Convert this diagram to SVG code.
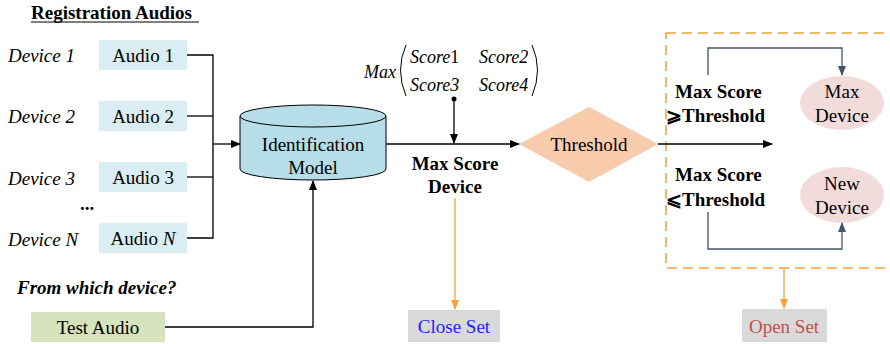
<svg xmlns="http://www.w3.org/2000/svg" width="890" height="344" viewBox="0 0 890 344" font-family="'Liberation Serif', 'Times New Roman', Times, 'DejaVu Serif', serif">
<defs>
<style>
text{font-family:'Liberation Serif','Times New Roman',Times,'DejaVu Serif',serif;font-size:19px;fill:#000}
.b{font-weight:bold}
.i{font-style:italic}
.c{text-anchor:middle}
.aud{fill:#daedf3}
.ln{fill:none;stroke:#000;stroke-width:1.3}
.sl{fill:none;stroke:#44546a;stroke-width:1.3}
.or{fill:none;stroke:#f5a038;stroke-width:1.3}
</style>
<marker id="ab" markerWidth="10" markerHeight="10" refX="9" refY="5" orient="auto" markerUnits="userSpaceOnUse"><path d="M0,1 L10,5 L0,9 Z" fill="#000"/></marker>
<marker id="as" markerWidth="10" markerHeight="10" refX="9" refY="5" orient="auto" markerUnits="userSpaceOnUse"><path d="M0,1 L10,5 L0,9 Z" fill="#44546a"/></marker>
<marker id="ao" markerWidth="10" markerHeight="10" refX="9" refY="5" orient="auto" markerUnits="userSpaceOnUse"><path d="M0,1 L10,5 L0,9 Z" fill="#f5a038"/></marker>
</defs>

<g id="title">
<text class="b" x="31" y="19">Registration Audios</text>
<line x1="31" y1="22" x2="199" y2="22" stroke="#000" stroke-width="1.2"/>
</g>

<g id="device-labels">
<text class="i" x="8" y="62">Device 1</text>
<text class="i" x="8" y="123">Device 2</text>
<text class="i" x="8" y="185">Device 3</text>
<text class="b" x="80" y="210">...</text>
<text class="i" x="8" y="246">Device N</text>
</g>

<g id="audio1"><rect class="aud" x="99" y="40" width="88" height="30"/><text class="c" x="143" y="62">Audio 1</text></g>
<g id="audio2"><rect class="aud" x="99" y="101" width="88" height="30"/><text class="c" x="143" y="123">Audio 2</text></g>
<g id="audio3"><rect class="aud" x="99" y="162" width="88" height="30"/><text class="c" x="143" y="184">Audio 3</text></g>
<g id="audioN"><rect class="aud" x="99" y="223" width="88" height="30"/><text class="c" x="143" y="245">Audio <tspan class="i">N</tspan></text></g>

<g id="question"><text class="b i" x="17" y="294">From which device?</text></g>

<g id="test-audio"><rect x="31" y="312" width="134" height="30" fill="#d6e3bc"/><text class="c" x="98" y="334">Test Audio</text></g>

<g id="model">
<path d="M240,116 L240,169 A73,11 0 0 0 386,169 L386,116" fill="#b7dde8" stroke="#000" stroke-width="1"/>
<ellipse cx="313" cy="116" rx="73" ry="11" fill="#b7dde8" stroke="#000" stroke-width="1"/>
<text class="c" x="313" y="151">Identification</text>
<text class="c" x="313" y="174">Model</text>
</g>

<g id="max-matrix">
<text class="i" x="364" y="78" style="font-size:18px">Max</text>
<path d="M406,45 Q395,70 406,96" fill="none" stroke="#000" stroke-width="1"/>
<path d="M532,45 Q543,70 532,96" fill="none" stroke="#000" stroke-width="1"/>
<text class="i" x="410" y="63" style="font-size:18px">Score<tspan font-style="normal">1</tspan></text>
<text class="i" x="479" y="63" style="font-size:18px">Score2</text>
<text class="i" x="410" y="91" style="font-size:18px">Score3</text>
<text class="i" x="479" y="91" style="font-size:18px">Score4</text>
</g>

<g id="max-score-device">
<text class="b c" x="455" y="170">Max Score</text>
<text class="b c" x="455" y="193">Device</text>
</g>

<g id="threshold">
<polygon points="519,144 589,107 658,144 589,182" fill="#f8cbad"/>
<text class="c" x="589" y="151">Threshold</text>
</g>

<g id="open-set-region">
<rect x="666" y="33" width="240" height="235" fill="none" stroke="#f5a038" stroke-width="1.5" stroke-dasharray="10,6"/>
</g>

<g id="cond-labels">
<text class="b" x="675" y="98">Max Score</text>
<text class="b" x="666" y="122">⩾Threshold</text>
<text class="b" x="675" y="181">Max Score</text>
<text class="b" x="666" y="206">⩽Threshold</text>
</g>

<g id="max-device"><ellipse cx="842" cy="103" rx="42" ry="27" fill="#f2dcdb"/><text class="c" x="842" y="98">Max</text><text class="c" x="842" y="122">Device</text></g>
<g id="new-device"><ellipse cx="842" cy="195" rx="42" ry="28" fill="#f2dcdb"/><text class="c" x="842" y="190">New</text><text class="c" x="842" y="214">Device</text></g>

<g id="close-set"><rect x="408" y="310" width="92" height="32" fill="#d9d9d9"/><text class="c" x="454" y="333" style="fill:#1f1fff">Close Set</text></g>
<g id="open-set"><rect x="742" y="309" width="85" height="33" fill="#d9d9d9"/><text class="c" x="784" y="333" style="fill:#c0504d">Open Set</text></g>

<g id="connectors">
<polyline class="ln" points="187,55 213,55 213,238 187,238"/>
<line class="ln" x1="187" y1="116" x2="213" y2="116"/>
<line class="ln" x1="187" y1="177" x2="213" y2="177"/>
<line class="ln" x1="213" y1="144" x2="240" y2="144" marker-end="url(#ab)" stroke-width="2"/>
<polyline class="ln" points="165,327 313,327 313,181" marker-end="url(#ab)"/>
<line class="ln" x1="386" y1="144" x2="519" y2="144" marker-end="url(#ab)"/>
<circle cx="454" cy="99" r="2.5" fill="#000"/>
<line class="ln" x1="454" y1="99" x2="454" y2="143" marker-end="url(#ab)"/>
<line class="ln" x1="658" y1="144" x2="772" y2="144" marker-end="url(#ab)"/>
<polyline class="sl" points="708,75 708,48 842,48 842,75" marker-end="url(#as)"/>
<polyline class="sl" points="708,212 708,249 842,249 842,223" marker-end="url(#as)"/>
<line class="or" x1="455" y1="198" x2="455" y2="309" marker-end="url(#ao)"/>
<line class="or" x1="784" y1="268" x2="784" y2="308" marker-end="url(#ao)"/>
</g>
</svg>
